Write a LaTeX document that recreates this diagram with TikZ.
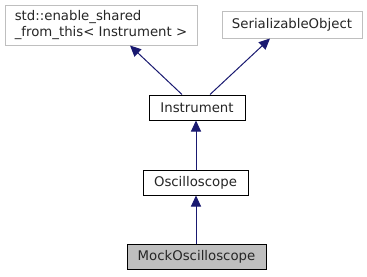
\documentclass[tikz,border=0pt]{standalone}
\usepackage{fontspec}
\setmainfont{DejaVu Sans}
\usetikzlibrary{arrows.meta}
\definecolor{edgeblue}{HTML}{191970}
\definecolor{boxgray}{HTML}{BFBFBF}
\tikzset{
  cls/.style={draw=black, line width=1pt, fill=white, inner sep=0pt,
    font=\fontsize{13.3}{15.5}\selectfont, text=black!85},
  extcls/.style={cls, draw=boxgray},
  current/.style={cls, fill=boxgray},
  inherit/.style={draw=edgeblue, line width=1pt,
    -{Triangle[length=11pt,width=10pt]}},
}
\begin{document}
\begin{tikzpicture}[x=1pt,y=-1pt]
  \useasboundingbox (0,0) rectangle (367,276);
  \node[extcls, minimum width=192pt, minimum height=40pt, align=left]
    (esft) at (101,25)
    {std::enable\_shared\\\_from\_this< Instrument >};
  \node[extcls, minimum width=140pt, minimum height=27pt] (ser) at (292,24.5)
    {SerializableObject};
  \node[cls, minimum width=96pt, minimum height=25pt] (inst) at (197,107.5)
    {Instrument};
  \node[cls, minimum width=105pt, minimum height=25pt] (osc) at (195.5,182.5)
    {Oscilloscope};
  \node[current, minimum width=139pt, minimum height=25pt] (mock) at (196.5,256.5)
    {MockOscilloscope};

  \draw[inherit] ([xshift=-15pt]inst.north) -- ([xshift=29pt]esft.south);
  \draw[inherit] ([xshift=13pt]inst.north) -- ([xshift=-22pt]ser.south);
  \draw[inherit] (osc.north -| 196,0) -- (inst.south -| 196,0);
  \draw[inherit] (mock.north -| 196,0) -- (osc.south -| 196,0);
\end{tikzpicture}
\end{document}
